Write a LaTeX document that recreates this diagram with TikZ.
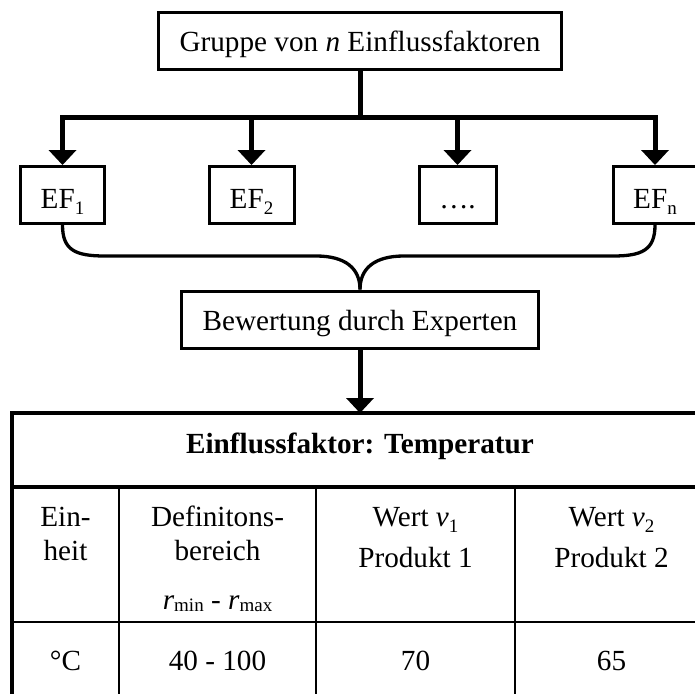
\documentclass[tikz,border=0pt]{standalone}
\usepackage{fontspec}
\setmainfont{Liberation Serif}
\usetikzlibrary{arrows.meta}
% lowered, smaller index (subscript in the text font)
\newcommand\lowidx[2][6pt]{\raisebox{-#1}{\fontsize{19}{19}\selectfont #2}}

\begin{document}
\begin{tikzpicture}[x=1pt,y=-1pt,
  every node/.style={font=\fontsize{29.2}{33.6}\selectfont, inner sep=0pt},
  box/.style={draw, line width=3pt, minimum height=57pt,
              text height=27pt, text depth=5pt},
  efbox/.style={box, text height=31pt},
  flow/.style={line width=5pt, -{Triangle[width=28pt,length=15pt,line width=0pt]}},
  stemline/.style={line width=5pt},
  bracecurve/.style={line width=3.3pt},
  outerrule/.style={line width=3.8pt},
  thinrule/.style={line width=2pt},
  cell/.style={anchor=base}
]
\useasboundingbox (0,0) rectangle (695,693);

% --- group of influence factors ---
\node[box, minimum width=403pt] (top) at (360,41) {Gruppe von \textit{n} Einflussfaktoren};
\coordinate (split) at (360,117);

\node[efbox, minimum width=84pt] (ef1) at (62.5,195) {EF\lowidx{1}};
\node[efbox, minimum width=85pt] (ef2) at (251.5,195) {EF\lowidx{2}};
\node[efbox, minimum width=77pt] (efd) at (457.5,195) {….};
\node[efbox, minimum width=84pt] (efn) at (655,195) {EF\lowidx{n}};

\draw[stemline] (top.south) -- (split);
\draw[flow] (split) -| (ef1.north);
\draw[flow] (split) -| (ef2.north);
\draw[flow] (split) -| (efd.north);
\draw[flow] (split) -| (efn.north);

% --- expert assessment ---
\node[box, minimum width=357pt] (bew) at (360,319.5) {Bewertung durch Experten};

\draw[bracecurve] (ef1.south) .. controls (62.5,250) and (75,256) .. (105,256)
  -- (316,256) .. controls (345,256) and (360,268) .. (bew.north);
\draw[bracecurve] (efn.south) .. controls (655,250) and (642,256) .. (613,256)
  -- (404,256) .. controls (375,256) and (360,268) .. (bew.north);

% --- table ---
\node[draw, outerrule, outer sep=0pt, minimum width=696pt, minimum height=294pt, anchor=north]
  (tbl) at (360,413) {};
\draw[flow] (bew.south) -- (tbl.north);

\draw[outerrule] (12,487) -- (708,487);
\draw[thinrule] (12,622) -- (708,622);
\draw[thinrule] (119,487) -- (119,707);
\draw[thinrule] (316,487) -- (316,707);
\draw[thinrule] (515,487) -- (515,707);

\node[cell] (hdr) at (360,453) {\textbf{Einflussfaktor: Temperatur}};

\node[cell] (c1a) at (65.5,526) {Ein-};
\node[cell] (c1b) at (65.5,560) {heit};
\node[cell] (c2a) at (217.5,526) {Definitons-};
\node[cell] (c2b) at (217.5,560) {bereich};
\node[cell] (c2c) at (217.5,609) {\textit{r}\lowidx[2pt]{min} - \textit{r}\lowidx[2pt]{max}};
\node[cell] (c3a) at (415.5,526) {Wert \textit{v}\lowidx{1}};
\node[cell] (c3b) at (415.5,567) {Produkt 1};
\node[cell] (c4a) at (611.5,526) {Wert \textit{v}\lowidx{2}};
\node[cell] (c4b) at (611.5,567) {Produkt 2};

\node[cell] (d1) at (65.5,670) {°C};
\node[cell] (d2) at (217.5,670) {40 - 100};
\node[cell] (d3) at (415.5,670) {70};
\node[cell] (d4) at (611.5,670) {65};
\end{tikzpicture}
\end{document}
